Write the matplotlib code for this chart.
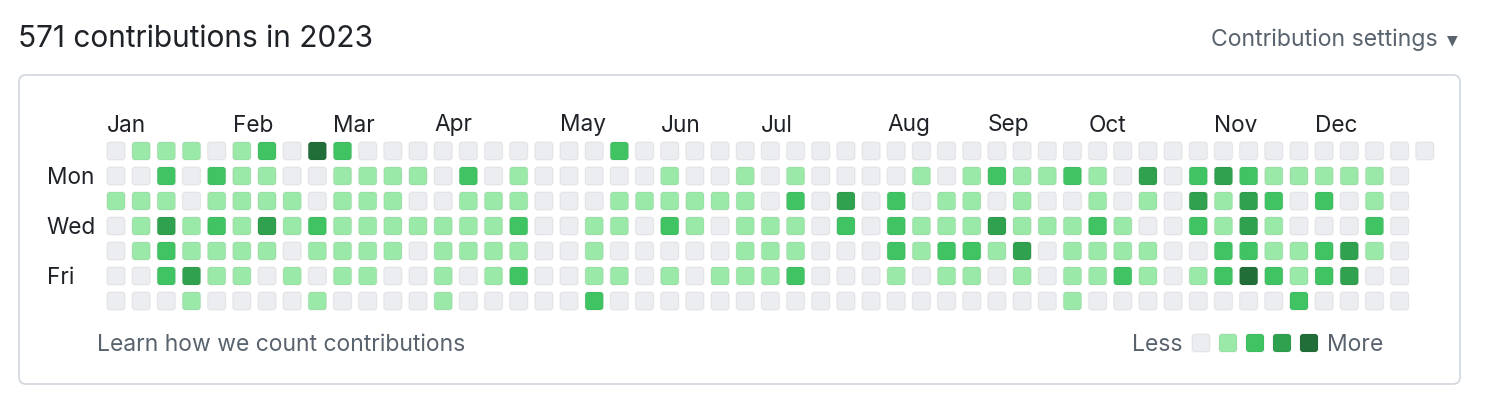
## GitHub-style contribution calendar for 2023

import numpy as np
import matplotlib.pyplot as plt
from matplotlib.patches import FancyBboxPatch

plt.rcParams['font.family'] = ['Inter', 'DejaVu Sans']

## contribution level (0-4) per week column, one list per weekday
sun = [0,1,1,1,0,1,2,0,4,2,0,0,0, 0,0,0,0,0,0,0,2,0,0,0,0,0,
       0,0,0,0,0,0,0,0,0,0,0,0,0, 0,0,0,0,0,0,0,0,0,0,0,0,0,0]
mon = [0,0,2,0,2,1,1,0,0,1,1,1,1, 0,2,0,1,0,0,0,0,0,1,0,0,1,
       0,1,0,0,0,0,1,0,1,2,1,1,2, 1,0,3,0,2,3,2,1,1,1,1,1,0]
tue = [1,1,1,0,1,1,1,1,0,1,1,1,0, 0,1,1,1,0,0,0,1,1,1,1,1,1,
       0,2,0,3,0,2,0,1,1,0,1,0,0, 1,0,1,0,3,1,3,2,0,2,0,1,0]
wed = [0,1,3,1,2,1,3,1,2,1,1,1,1, 1,1,1,2,0,0,1,1,0,2,1,0,1,
       1,1,0,2,0,2,1,1,1,3,1,1,1, 2,1,0,0,2,1,3,1,0,0,0,2,0]
thu = [0,1,2,1,1,1,1,0,1,1,1,1,0, 1,1,1,1,0,0,1,0,0,0,0,0,1,
       1,1,0,0,0,2,1,2,2,1,3,0,1, 1,1,1,0,0,2,2,1,1,2,3,1,0]
fri = [0,0,2,3,1,1,0,1,0,1,1,0,0, 1,0,1,2,0,0,1,1,0,1,0,1,1,
       1,2,0,0,0,1,0,1,1,0,1,0,1, 1,2,1,0,1,2,4,2,1,2,3,0,0]
sat = [0,0,0,1,0,0,0,0,1,0,0,0,0, 1,0,0,0,0,0,2,0,0,0,0,0,0,
       0,0,0,0,0,0,0,0,0,0,0,0,1, 0,0,0,0,0,0,0,0,2,0,0,0,0]
weekdays = [sun, mon, tue, wed, thu, fri, sat]

months = ['Jan','Feb','Mar','Apr','May','Jun','Jul','Aug','Sep','Oct','Nov','Dec']
month_weeks = [0, 5, 9, 13, 18, 22, 26, 31, 35, 39, 44, 48]
day_labels = ['Mon', 'Wed', 'Fri']
day_rows = [1, 3, 5]

total = 571
year = 2023

colors = ['#ebedf0', '#9be9a8', '#40c463', '#30a14e', '#216e39']
text_dark = '#1f2328'
text_gray = '#59636e'

W, H = 1500, 412
fig = plt.figure(figsize=(W/100, H/100), dpi=100)

## background axes in pixel units for the frame and texts
bg = fig.add_axes([0, 0, 1, 1])
bg.set_xlim(0, W)
bg.set_ylim(H, 0)
bg.axis('off')

bg.add_patch(FancyBboxPatch((19, 75), 1441, 309, boxstyle='round,pad=0,rounding_size=7',
                            facecolor='white', edgecolor='#d0d7de', linewidth=1.2))
bg.text(18, 39, f'{total} contributions in {year}', fontsize=21.5, color=text_dark,
        ha='left', va='center')
bg.text(1438, 40, 'Contribution settings', fontsize=16.6, color=text_gray,
        ha='right', va='center')
bg.text(1452, 40, '\u25BC', fontsize=10, color=text_gray, family='DejaVu Sans',
        ha='center', va='center', transform=bg.transData)
bg.text(97, 345, 'Learn how we count contributions', fontsize=16.5, color=text_gray,
        ha='left', va='center')
bg.text(1183, 345, 'Less', fontsize=16.5, color=text_gray, ha='right', va='center')
bg.text(1327, 345, 'More', fontsize=16.5, color=text_gray, ha='left', va='center')
for i, c in enumerate(colors):
  bg.add_patch(FancyBboxPatch((1192 + i*27, 334), 18, 18,
                              boxstyle='round,pad=0,rounding_size=3',
                              facecolor=c, edgecolor=(0, 0, 0, 0.05), linewidth=1))

## grid axes: x = week, y = weekday
ax = fig.add_axes([103.4/W, (H - 313.5)/H, 1334/W, 175/H])
ax.set_xlim(-0.5, 52.5)
ax.set_ylim(6.5, -0.5)
ax.axis('off')

s = 0.72
for d, row in enumerate(weekdays):
  for w, lvl in enumerate(row):
    ax.add_patch(FancyBboxPatch((w - s/2, d - s/2), s, s,
                                boxstyle='round,pad=0,rounding_size=0.12',
                                facecolor=colors[lvl], edgecolor=(0, 0, 0, 0.05),
                                linewidth=1))

for m, wk in zip(months, month_weeks):
  ax.text(wk - s/2, -1.02, m, fontsize=16.3, color=text_dark, ha='left', va='center',
          clip_on=False)
for lab, r in zip(day_labels, day_rows):
  ax.text(-2.75, r + 0.06, lab, fontsize=16.3, color=text_dark, ha='left', va='center',
          clip_on=False)

plt.savefig('out.png', dpi=100)
